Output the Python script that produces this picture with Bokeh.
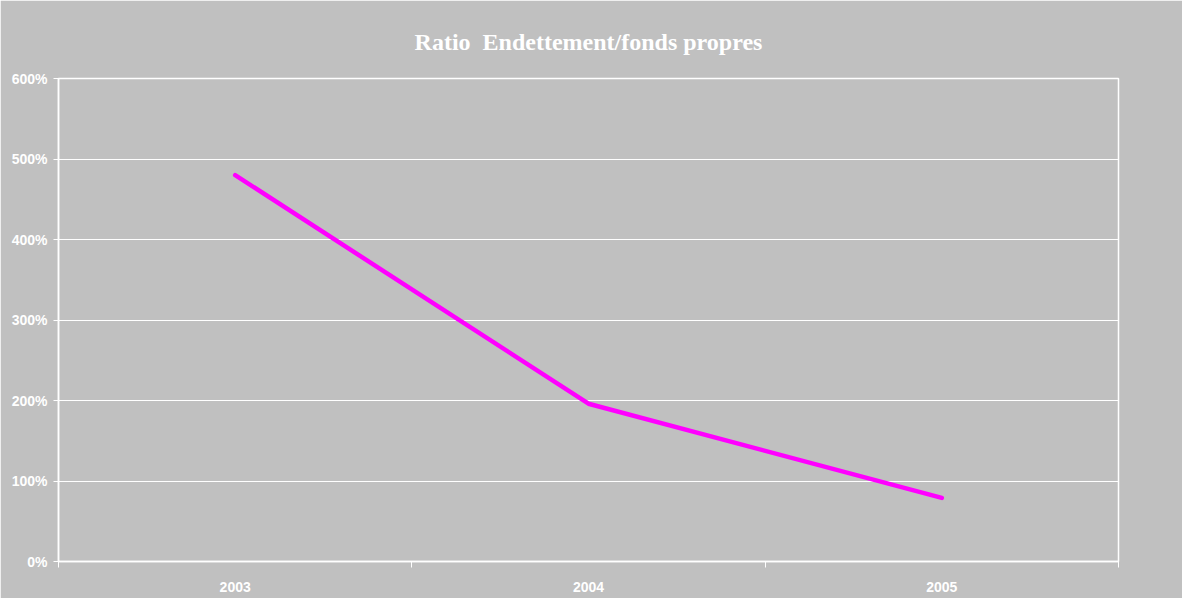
from bokeh.plotting import figure
from bokeh.models import FixedTicker, NumeralTickFormatter, Range1d
from bokeh.embed import file_html
from bokeh.resources import INLINE

years = [2003, 2004, 2005]
ratio = [4.80, 1.96, 0.79]
year_labels = ["2003", "2004", "2005"]
y_ticks = [0, 1, 2, 3, 4, 5, 6]

BG = "#C0C0C0"
WHITE = "#FFFFFF"

p = figure(width=1182, height=598, output_backend="svg", toolbar_location=None,
           x_range=Range1d(2002.5, 2005.5), y_range=Range1d(0, 6),
           title="Ratio\u00a0 Endettement/fonds propres",
           min_border_left=58, min_border_right=64, min_border_top=78, min_border_bottom=37)

p.background_fill_color = BG
p.border_fill_color = BG
p.outline_line_color = WHITE
p.outline_line_width = 1.5

p.title.align = "center"
p.title.text_color = WHITE
p.title.text_font = "Liberation Serif"
p.title.text_font_style = "bold"
p.title.text_font_size = "24px"
p.title.standoff = 48

p.line(years, ratio, line_color="#FF00FF", line_width=4.5, line_cap="round", line_join="round")

# x axis
xa = p.xaxis[0]
xa.ticker = FixedTicker(ticks=years, minor_ticks=[2002.5, 2003.5, 2004.5, 2005.5])
xa.major_label_overrides = {y: l for y, l in zip(years, year_labels)}
xa.axis_line_color = WHITE
xa.axis_line_width = 1.5
xa.major_tick_line_color = None
xa.major_tick_out = 0
xa.major_tick_in = 0
xa.minor_tick_line_color = WHITE
xa.minor_tick_out = 6
xa.minor_tick_in = 0
xa.major_label_standoff = 14
xa.major_label_text_color = WHITE
xa.major_label_text_font = "Liberation Sans"
xa.major_label_text_font_style = "bold"
xa.major_label_text_font_size = "14px"

# y axis
ya = p.yaxis[0]
ya.ticker = FixedTicker(ticks=y_ticks, minor_ticks=[])
ya.formatter = NumeralTickFormatter(format="0%")
ya.axis_line_color = WHITE
ya.axis_line_width = 1.5
ya.major_tick_line_color = WHITE
ya.major_tick_out = 5
ya.major_tick_in = 0
ya.minor_tick_line_color = None
ya.major_label_standoff = 6
ya.major_label_text_color = WHITE
ya.major_label_text_font = "Liberation Sans"
ya.major_label_text_font_style = "bold"
ya.major_label_text_font_size = "14px"

p.xgrid.grid_line_color = None
p.ygrid.grid_line_color = WHITE
p.ygrid.grid_line_width = 1

open("out.html", "w").write(file_html(p, INLINE))
